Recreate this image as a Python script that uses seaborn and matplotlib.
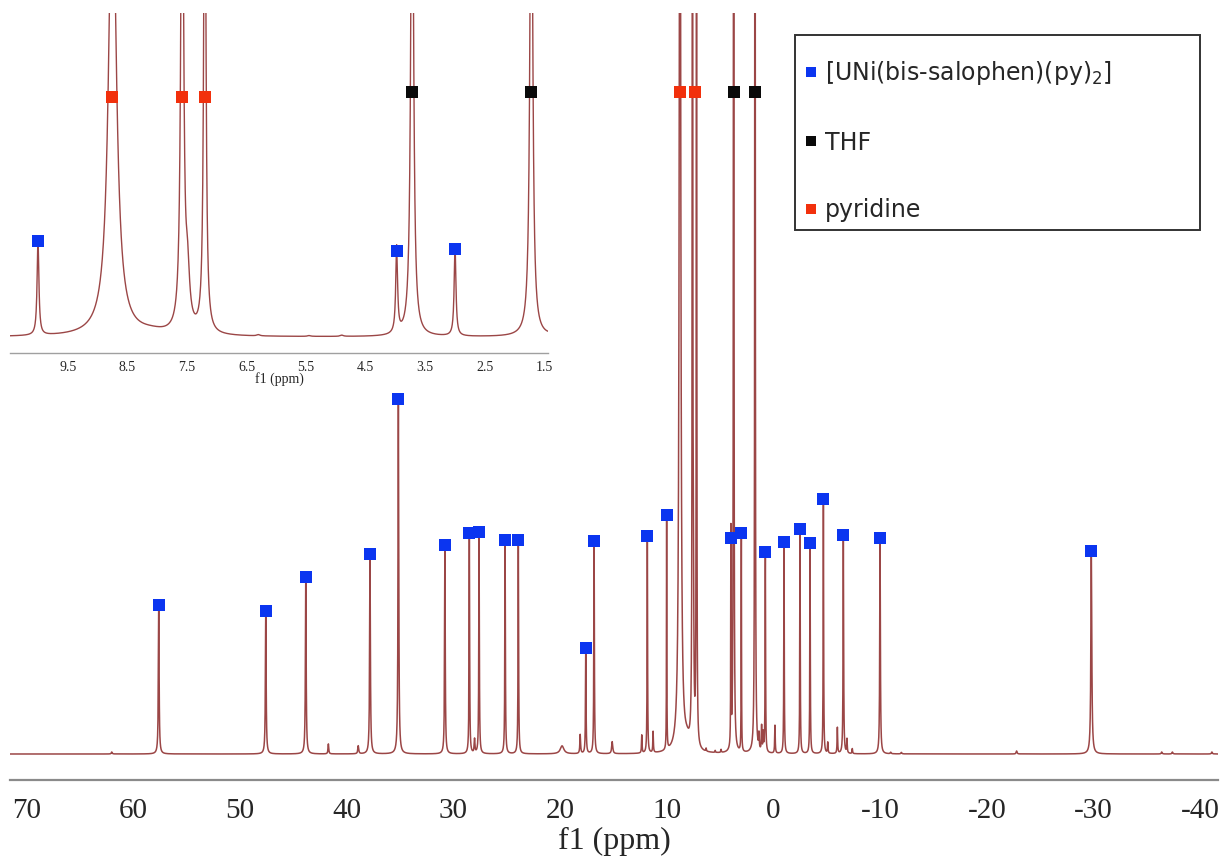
import numpy as np
import pandas as pd
import seaborn as sns
import matplotlib
matplotlib.use("Agg")
import matplotlib.pyplot as plt
from matplotlib.lines import Line2D
from matplotlib.patches import Rectangle
from matplotlib.ticker import MultipleLocator, FuncFormatter

# ---------------- data ----------------
# [UNi(bis-salophen)(py)2] signals: position (ppm), height, half-width
complex_ppm = [57.6, 47.57, 43.82, 37.8, 35.14, 30.78, 28.49, 27.58, 25.14, 23.90,
               17.58, 16.80, 11.81, 10.0, 3.98, 3.0, 0.75, -1.0, -2.5, -3.44,
               -4.69, -6.56, -10.0, -29.8]
complex_height = [149, 143, 177, 200, 355, 209, 221, 222, 214, 214,
                  106, 213, 218, 239, 216, 221, 202, 212, 225, 211,
                  255, 219, 216, 203]
complex_width = [0.04, 0.04, 0.04, 0.04, 0.04, 0.035, 0.03, 0.03, 0.03, 0.03,
                 0.03, 0.03, 0.025, 0.018, 0.018, 0.018, 0.025, 0.025, 0.025, 0.025,
                 0.025, 0.03, 0.035, 0.05]

# pyridine signals (off-scale)
pyridine_ppm = [8.75, 7.58, 7.20]
pyridine_height = [1200, 1500, 1500]
pyridine_width = [0.075, 0.025, 0.02]
pyridine_mark_main_ppm = [8.75, 7.39]   # the two red labels of the full spectrum

# THF signals (off-scale)
thf_ppm = [3.72, 1.72]
thf_height = [1500, 1500]
thf_width = [0.025, 0.025]

# small unassigned signals
minor_ppm = [62.0, 41.7, 38.9, 28.0, 19.8, 18.1, 15.1, 12.33, 11.27, 8.1, 7.49,
             6.3, 5.45, 4.9, 1.35, 1.1, 0.95, -0.15, -5.1, -6.0, -6.9, -7.4,
             -11.0, -12.0, -22.8, -36.4, -37.4, -41.1]
minor_height = [2, 10, 8, 14, 8, 19, 12, 18, 21, 8, 125,
                3, 2, 3, 15, 25, 18, 28, 11, 26, 14, 5,
                1.5, 1.5, 3, 2, 2, 2]
minor_width = [0.05, 0.04, 0.05, 0.04, 0.2, 0.04, 0.06, 0.03, 0.03, 0.3, 0.04,
               0.03, 0.03, 0.03, 0.03, 0.03, 0.03, 0.03, 0.03, 0.03, 0.03, 0.03,
               0.05, 0.05, 0.05, 0.05, 0.05, 0.05]

# label heights for the off-scale solvent signals
solvent_mark_main = 662
pyridine_mark_inset = 600
thf_mark_inset = 612

legend_labels = ["[UNi(bis-salophen)(py)$_2$]", "THF", "pyridine"]

# ---------------- spectrum from the peak table ----------------
pos = np.array(complex_ppm + pyridine_ppm + thf_ppm + minor_ppm)
hei = np.array(complex_height + pyridine_height + thf_height + minor_height, float)
wid = np.array(complex_width + pyridine_width + thf_width + minor_width)
ppm = np.arange(-41.8, 71.7, 0.003)
inten = (hei[None, :] / (1.0 + ((ppm[:, None] - pos[None, :]) / wid[None, :]) ** 2)).sum(axis=1)
spec = pd.DataFrame({"ppm": ppm, "intensity": inten})

# ---------------- styling ----------------
sns.set_style("white")
plt.rcParams["font.family"] = ["DejaVu Sans"]
plt.rcParams["mathtext.fontset"] = "dejavusans"
plt.rcParams["axes.unicode_minus"] = False

BLUE = "#0b35f0"
RED = "#f2300c"
BLACK = "#0a0a0a"
LINE = "#9b4646"
W, H = 1224, 861

fig = plt.figure(figsize=(W / 100, H / 100), dpi=100)
fig.patch.set_facecolor("white")

def fx(x):
    return x / W

def fy(y):
    return 1 - y / H

# ---------------- main spectrum ----------------
ax = fig.add_axes([fx(10), fy(780), fx(1208), 767 / H])
ax.set_facecolor("white")
sns.lineplot(data=spec, x="ppm", y="intensity", estimator=None, sort=False,
             color=LINE, lw=1.1, ax=ax)
sns.scatterplot(x=complex_ppm, y=complex_height, marker="s", color=BLUE, s=70,
                linewidth=0, ax=ax, zorder=5)
sns.scatterplot(x=pyridine_mark_main_ppm, y=[solvent_mark_main] * len(pyridine_mark_main_ppm),
                marker="s", color=RED, s=70, linewidth=0, ax=ax, zorder=5)
sns.scatterplot(x=thf_ppm, y=[solvent_mark_main] * len(thf_ppm), marker="s",
                color=BLACK, s=70, linewidth=0, ax=ax, zorder=5)
ax.set_xlim(71.54, -41.67)
ax.set_ylim(-26, 741)
for s in ["left", "right", "top"]:
    ax.spines[s].set_visible(False)
ax.spines["bottom"].set_color("#8a8a8a")
ax.spines["bottom"].set_linewidth(1.6)
ax.set_yticks([])
ax.xaxis.set_major_locator(MultipleLocator(5))
ax.xaxis.set_minor_locator(MultipleLocator(2.5))
ax.xaxis.set_major_formatter(FuncFormatter(
    lambda v, p: f"{int(round(v))}" if abs(v / 10 - round(v / 10)) < 1e-6 else ""))
ax.tick_params(axis="x", which="major", direction="out", length=7, width=1.3,
               color="#8a8a8a", pad=6, labelsize=21)
ax.tick_params(axis="x", which="minor", direction="out", length=4, width=1.1,
               color="#8a8a8a")
for lab in ax.get_xticklabels():
    lab.set_family("Liberation Serif")
ax.set_xlabel("f1 (ppm)", family="Liberation Serif", fontsize=23, labelpad=2)
ax.set_ylabel("")

# ---------------- inset ----------------
axi = fig.add_axes([fx(10), fy(353), fx(538), 340 / H])
axi.patch.set_alpha(0)
sns.lineplot(data=spec, x="ppm", y="intensity", estimator=None, sort=False,
             color=LINE, lw=1.0, ax=axi)
ins_c = [(p, h) for p, h in zip(complex_ppm, complex_height) if 1.44 < p < 10.47]
sns.scatterplot(x=[c[0] for c in ins_c], y=[c[1] for c in ins_c], marker="s",
                color=BLUE, s=70, linewidth=0, ax=axi, zorder=5)
sns.scatterplot(x=pyridine_ppm, y=[pyridine_mark_inset] * 3, marker="s", color=RED,
                s=70, linewidth=0, ax=axi, zorder=5)
sns.scatterplot(x=thf_ppm, y=[thf_mark_inset] * 2, marker="s", color=BLACK,
                s=70, linewidth=0, ax=axi, zorder=5)
axi.set_xlim(10.47, 1.44)
axi.set_ylim(-40, 810)
for s in ["left", "right", "top"]:
    axi.spines[s].set_visible(False)
axi.spines["bottom"].set_color("#a0a0a0")
axi.spines["bottom"].set_linewidth(1.0)
axi.set_yticks([])
axi.xaxis.set_major_locator(MultipleLocator(0.5))
axi.xaxis.set_minor_locator(MultipleLocator(0.1))
axi.xaxis.set_major_formatter(FuncFormatter(
    lambda v, p: f"{v:.1f}" if abs((v - 0.5) - round(v - 0.5)) < 1e-6 else ""))
axi.tick_params(axis="x", which="major", direction="out", length=4, width=0.8,
                color="#a0a0a0", pad=2, labelsize=10)
axi.tick_params(axis="x", which="minor", direction="out", length=2, width=0.6,
                color="#a0a0a0")
for lab in axi.get_xticklabels():
    lab.set_family("Liberation Serif")
axi.set_xlabel("f1 (ppm)", family="Liberation Serif", fontsize=10, labelpad=-1.5)
axi.set_ylabel("")

# ---------------- legend ----------------
handles = [Line2D([], [], marker="s", ls="", color=c, markersize=6.5, markeredgewidth=0)
           for c in (BLUE, BLACK, RED)]
ax.legend(handles, legend_labels, loc="upper left",
          bbox_to_anchor=(fx(806), fy(59)), bbox_transform=fig.transFigure,
          frameon=False, fontsize=17, handlelength=0.45, handletextpad=0.35,
          labelspacing=1.85, borderpad=0, borderaxespad=0)
fig.add_artist(Rectangle((fx(795), fy(230)), fx(405), 195 / H, transform=fig.transFigure,
                         fill=False, edgecolor="#333333", lw=1.4))

fig.savefig("out.png", dpi=100, facecolor="white")
